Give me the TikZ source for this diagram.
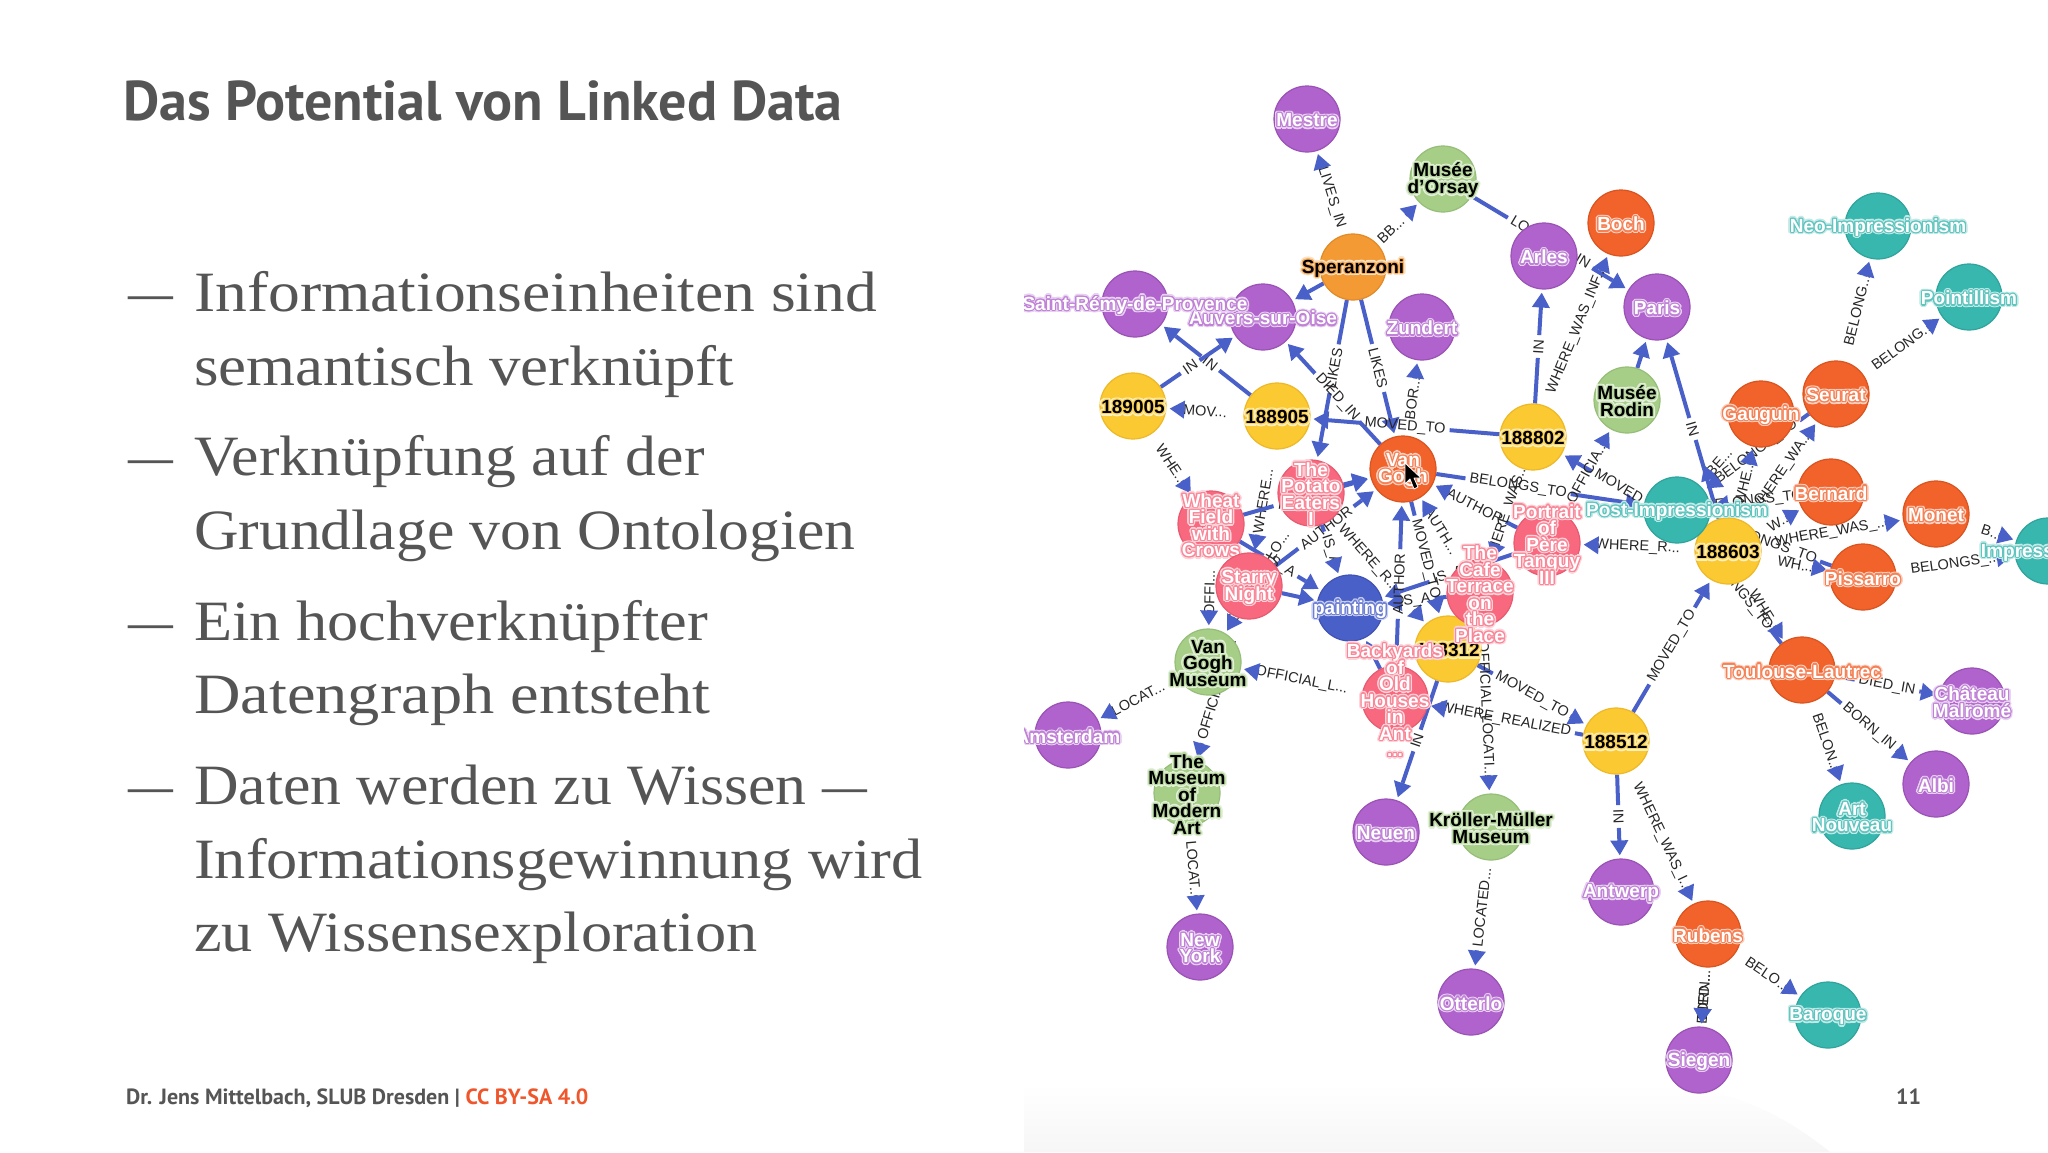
\documentclass[tikz,border=0pt]{standalone}
\usepackage{fontspec}
\usepackage[copies]{contour}
\usetikzlibrary{arrows.meta,calc}
\setmainfont{Liberation Sans}
\newfontfamily\ptsans{PT Sans}
\newfontfamily\bodyf[FakeStretch=1.093]{Liberation Serif}
\definecolor{cP}{HTML}{B063CC}\definecolor{cPd}{HTML}{9A52B5}
\definecolor{cR}{HTML}{F2622B}\definecolor{cRd}{HTML}{D9541F}
\definecolor{cT}{HTML}{38B7AF}\definecolor{cTd}{HTML}{2FA39C}
\definecolor{cG}{HTML}{A6CE87}\definecolor{cGd}{HTML}{96BE78}
\definecolor{cY}{HTML}{FBC931}\definecolor{cYd}{HTML}{EDB928}
\definecolor{cK}{HTML}{F8697F}\definecolor{cKd}{HTML}{E85A70}
\definecolor{cB}{HTML}{4A60C9}\definecolor{cBd}{HTML}{4053B5}
\definecolor{cO}{HTML}{F49A35}\definecolor{cOd}{HTML}{E08A28}
\definecolor{slide}{HTML}{555555}\definecolor{ccred}{HTML}{F0562B}
\contournumber{16}
\colorlet{haloa}{white}\colorlet{halob}{white}
\newcommand\hl[1]{\leavevmode\rlap{\contourlength{2.6pt}\contour{haloa}{#1}}\contourlength{1.1pt}\contour{halob}{#1}}
\newcommand\sethalo[1]{\colorlet{haloa}{#1!30}\colorlet{halob}{#1!80}}
\newcommand\tightlines{\setlength{\lineskiplimit}{-20pt}}
\newcommand\dsh{\scalebox{0.72}[1]{—}}
\newcommand\sx[2]{\scalebox{#1}[1]{#2}}
\pgfdeclarelayer{paper}\pgfdeclarelayer{edges}\pgfsetlayers{paper,edges,main}
\tikzset{
 x=1pt,y=-1pt,
 circ/.style={circle,minimum size=66pt,inner sep=0pt,line width=1.2pt},
 txt/.style={inner sep=0pt,align=center,yshift=-2.5pt,font=\bfseries\fontsize{19}{16.5}\selectfont\tightlines},
 purp/.style={fill=cP,draw=cPd},purpt/.style={text=white,execute at begin node=\sethalo{cP}},
 rred/.style={fill=cR,draw=cRd},rredt/.style={text=white,execute at begin node=\sethalo{cR}},
 teal/.style={fill=cT,draw=cTd},tealt/.style={text=white,execute at begin node=\sethalo{cT}},
 gren/.style={fill=cG,draw=cGd},grent/.style={text=black,execute at begin node=\sethalo{cG}},
 yelo/.style={fill=cY,draw=cYd},yelot/.style={text=black,execute at begin node=\sethalo{cY}},
 pink/.style={fill=cK,draw=cKd},pinkt/.style={text=white,execute at begin node=\sethalo{cK}},
 blue/.style={fill=cB,draw=cBd},bluet/.style={text=white,execute at begin node=\sethalo{cB}},
 oran/.style={fill=cO,draw=cOd},orant/.style={text=black,execute at begin node=\sethalo{cO}},
 edgeline/.style={draw=cB,line width=4pt},
 edgetip/.style={draw=cB,line width=4pt,shorten >=3pt,-{Triangle[length=15pt,width=17pt]}},
 lab/.style={sloped,inner xsep=4pt,inner ysep=0pt,text=black!85,font=\fontsize{14.5}{14.5}\selectfont},
 slidetxt/.style={anchor=base west,inner sep=0pt,text=slide},
 bodyline/.style={slidetxt,font=\bodyf\fontsize{57}{57}\selectfont},
}
\newcommand\gn[5]{\node[circ,#4] (#1) at (#2,#3) {};\node[txt,#4t] (#1t) at (#1.center) {#5};}
\newcounter{ed}
\makeatletter
\newcommand\rel[4][0.5]{\stepcounter{ed}%
 \begin{pgfonlayer}{edges}
 \coordinate (tp\theed) at ($(#3.center)!52pt!(#2.center)$);
 \path (#2.center) -- node[lab,pos=#1] (L\theed) {#4} (#3.center);
 \in@{...}{#4}%
 \ifin@\else
 \draw[edgeline] (#2) -- (L\theed);
 \draw[edgeline] (L\theed) -- (tp\theed);
 \fi
 \draw[edgetip] (tp\theed) -- (#3);
 \end{pgfonlayer}}
\newcommand\relfull[4][0.5]{\stepcounter{ed}%
 \begin{pgfonlayer}{edges}
 \coordinate (tp\theed) at ($(#3.center)!52pt!(#2.center)$);
 \path (#2.center) -- node[lab,pos=#1] (L\theed) {#4} (#3.center);
 \draw[edgetip] (tp\theed) -- (#3);
 \end{pgfonlayer}}
\makeatother
\newcommand\norel[2]{\begin{pgfonlayer}{edges}\draw[edgetip] (#1) -- (#2);\end{pgfonlayer}}
\begin{document}
\begin{tikzpicture}
\useasboundingbox (0,0) rectangle (2048,1152);
\begin{pgfonlayer}{paper}
\fill[white] (0,0) rectangle (2048,1152);
\shade[top color=white,bottom color=black!3.5] (1024,1084) -- (1660,1084) .. controls (1740,1090) and (1790,1120) .. (1830,1152) -- (1024,1152) -- cycle;
\end{pgfonlayer}
% nodes
\gn{Mestre}{1307}{119}{purp}{\hl{Mestre}}
\gn{Orsay}{1443}{179}{gren}{\hl{Musée}\\\hl{d'Orsay}}
\gn{Sp}{1353}{267}{oran}{\hl{Speranzoni}}
\gn{Auvers}{1263}{317}{purp}{\hl{Auvers-sur-Oise}}
\gn{Saint}{1135}{304}{purp}{\hl{Saint-Rémy-de-Provence}}
\gn{Zundert}{1422}{327}{purp}{\hl{Zundert}}
\gn{c005}{1133}{406}{yelo}{\hl{189005}}
\gn{c905}{1277}{416}{yelo}{\hl{188905}}
\gn{c802}{1533}{437}{yelo}{\hl{188802}}
\gn{Arles}{1544}{256}{purp}{\hl{Arles}}
\gn{Boch}{1621}{223}{rred}{\hl{Boch}}
\gn{Paris}{1657}{307}{purp}{\hl{Paris}}
\gn{Rodin}{1627}{400}{gren}{\hl{Musée}\\\hl{Rodin}}
\gn{Neo}{1878}{226}{teal}{\hl{Neo-Impressionism}}
\gn{Pointillism}{1969}{297}{teal}{\hl{Pointillism}}
\gn{Gauguin}{1761}{414}{rred}{\hl{Gauguin}}
\gn{Seurat}{1836}{394}{rred}{\hl{Seurat}}
\gn{Bernard}{1831}{492}{rred}{\hl{Bernard}}
\gn{Monet}{1936}{514}{rred}{\hl{Monet}}
\gn{Impress}{2048}{551}{teal}{\hl{Impressionism}}
\gn{Pissarro}{1863}{577}{rred}{\hl{Pissarro}}
\gn{c603}{1728}{551}{yelo}{\hl{188603}}
\gn{PostI}{1677}{510}{teal}{\hl{Post-Impressionism}}
\gn{VG}{1403}{469}{rred}{\hl{Van}\\\hl{Gogh}}
\gn{Potato}{1311}{493}{pink}{\hl{The}\\\hl{Potato}\\\hl{Eaters}\\\hl{I}}
\gn{Wheat}{1211}{524}{pink}{\hl{Wheat}\\\hl{Field}\\\hl{with}\\\hl{Crows}}
\gn{Starry}{1249}{586}{pink}{\hl{Starry}\\\hl{Night}}
\gn{painting}{1350}{608}{blue}{\hl{painting}}
\gn{c312}{1448}{649}{yelo}{\hl{188312}}
\gn{Cafe}{1480}{593}{pink}{\hl{The}\\\hl{Cafe}\\\hl{Terrace}\\\hl{on}\\\hl{the}\\\hl{Place}}
\gn{Portrait}{1547}{543}{pink}{\hl{Portrait}\\\hl{of}\\\hl{Père}\\\hl{Tanguy}\\\hl{III}}
\gn{Backyards}{1395}{699}{pink}{\hl{Backyards}\\\hl{of}\\\hl{Old}\\\hl{Houses}\\\hl{in}\\\hl{Ant}\\\hl{...}}
\gn{VGM}{1208}{662}{gren}{\hl{Van}\\\hl{Gogh}\\\hl{Museum}}
\gn{MoMA}{1187}{793}{gren}{\hl{The}\\\hl{Museum}\\\hl{of}\\\hl{Modern}\\\hl{Art}}
\gn{Amsterdam}{1068}{735}{purp}{\hl{Amsterdam}}
\gn{NewYork}{1200}{947}{purp}{\hl{New}\\\hl{York}}
\gn{Neuen}{1386}{832}{purp}{\hl{Neuen}}
\gn{Kroller}{1491}{827}{gren}{\hl{Kröller-Müller}\\\hl{Museum}}
\gn{Otterlo}{1471}{1002}{purp}{\hl{Otterlo}}
\gn{cf12}{1616}{741}{yelo}{\hl{188512}}
\gn{Antwerp}{1621}{892}{purp}{\hl{Antwerp}}
\gn{Rubens}{1708}{934}{rred}{\hl{Rubens}}
\gn{Siegen}{1699}{1060}{purp}{\hl{Siegen}}
\gn{Baroque}{1828}{1015}{teal}{\hl{Baroque}}
\gn{Toulouse}{1802}{670}{rred}{\hl{Toulouse-Lautrec}}
\gn{Chateau}{1972}{701}{purp}{\hl{Château}\\\hl{Malromé}}
\gn{Albi}{1936}{784}{purp}{\hl{Albi}}
\gn{ArtN}{1852}{816}{teal}{\hl{Art}\\\hl{Nouveau}}
% connectors
\relfull[0.47]{Sp}{Mestre}{LIVES\_IN}
\rel[0.42]{Sp}{Orsay}{BB...}
\rel{Orsay}{Paris}{LOCATED\_IN}
\norel{Sp}{Auvers}
\rel[0.45]{Sp}{Potato}{LIKES}
\rel{Sp}{VG}{LIKES}
\rel[0.47]{VG}{Auvers}{DIED\_IN}
\rel{VG}{Zundert}{BOR...}
\rel[0.47]{c905}{Saint}{IN}
\rel[0.44]{c005}{Auvers}{IN}
\rel{c905}{c005}{MOV...}
\rel{c802}{c905}{MOVED\_TO}
\rel{c905}{Starry}{WHERE...}
\rel{c005}{Wheat}{WHE...}
\rel{Wheat}{VG}{AUTHOR}
\rel{Starry}{VG}{AUTHOR}
\norel{Potato}{VG}
\rel{Wheat}{painting}{IS\_A}
\norel{Starry}{painting}
\rel{Potato}{painting}{IS\_A}
\rel[0.42]{Potato}{c312}{WHERE\_R...}
\rel{Cafe}{painting}{IS\_A}
\rel{Portrait}{painting}{IS\_A}
\norel{Backyards}{painting}
\rel{Backyards}{VG}{AUTHOR}
\rel{VG}{c312}{MOVED\_TO}
\rel{Cafe}{VG}{AUTH...}
\rel{Portrait}{VG}{AUTHOR}
\rel[0.42]{VG}{PostI}{BELONGS\_TO}
\rel{c312}{Neuen}{IN}
\rel{c312}{cf12}{MOVED\_TO}
\rel{cf12}{Backyards}{WHERE\_REALIZED}
\rel{Backyards}{VGM}{OFFICIAL\_L...}
\rel{Wheat}{VGM}{OFFI...}
\rel{Potato}{VGM}{OFFICIAL\_LO...}
\rel{Starry}{MoMA}{OFFICIAL\_LO...}
\rel{VGM}{Amsterdam}{LOCAT...}
\rel{MoMA}{NewYork}{LOCAT...}
\rel[0.46]{Kroller}{Otterlo}{LOCATED...}
\rel{Cafe}{Kroller}{OFFICIAL\_LOCATI...}
\rel{cf12}{c603}{MOVED\_TO}
\rel{c603}{c802}{MOVED\_TO}
\rel{c802}{Arles}{IN}
\rel{c802}{Boch}{WHERE\_WAS\_INF...}
\rel{c802}{Cafe}{WHERE\_WAS...}
\norel{Rodin}{Paris}
\rel{c603}{Paris}{IN}
\rel{Gauguin}{PostI}{BE...}
\rel{Seurat}{PostI}{BELONGS\_TO}
\rel{Bernard}{PostI}{BELONGS\_TO}
\rel{Pissarro}{PostI}{BELONGS\_TO}
\rel{Toulouse}{PostI}{BELONGS\_TO}
\rel{c603}{Seurat}{WHERE\_WA...}
\rel{c603}{Gauguin}{WHE...}
\rel{c603}{Bernard}{W...}
\rel{c603}{Monet}{WHERE\_WAS\_...}
\rel{c603}{Pissarro}{WH...}
\rel{c603}{Toulouse}{WHE...}
\rel{c603}{Portrait}{WHERE\_R...}
\rel{Portrait}{Rodin}{OFFICIA...}
\rel{Monet}{Impress}{B...}
\rel{Pissarro}{Impress}{BELONGS\_...}
\rel{Toulouse}{ArtN}{BELON...}
\rel{Toulouse}{Albi}{BORN\_IN}
\rel{Toulouse}{Chateau}{DIED\_IN}
\rel{Rubens}{Baroque}{BELO...}
\rel{Rubens}{Siegen}{BORN...}
\rel{Rubens}{Siegen}{DIED...}
\rel{cf12}{Antwerp}{IN}
\rel{cf12}{Rubens}{WHERE\_WAS\_I...}
\rel{Seurat}{Neo}{BELONG...}
\rel{Seurat}{Pointillism}{BELONG...}
% cursor
\filldraw[fill=black,draw=white,line width=0.8pt,line join=round] (1405,463) -- (1405,484) -- (1410,479) -- (1414,489) -- (1418,487) -- (1414,478) -- (1421,478) -- cycle;
% left slide area
\fill[white] (0,0) rectangle (1024,1152);
\node[slidetxt,font=\ptsans\bfseries\fontsize{56}{56}\selectfont] (title) at (123,120) {Das Potential von Linked Data};
\node[bodyline] (d1) at (128,311) {\dsh};\node[bodyline] (t1) at (194,311) {\sx{1.02}{Informationseinheiten sind}};
\node[bodyline] (t2) at (194,385) {\sx{1.01}{semantisch verknüpft}};
\node[bodyline] (d2) at (128,475) {\dsh};\node[bodyline] (t3) at (194,475) {\sx{0.99}{Verknüpfung auf der}};
\node[bodyline] (t4) at (194,549) {\sx{0.99}{Grundlage von Ontologien}};
\node[bodyline] (d3) at (128,640) {\dsh};\node[bodyline] (t5) at (194,640) {Ein hochverknüpfter};
\node[bodyline] (t6) at (194,713) {\sx{1.033}{Datengraph entsteht}};
\node[bodyline] (d4) at (128,804) {\dsh};\node[bodyline] (t7) at (194,804) {\sx{0.99}{Daten werden zu Wissen} \dsh};
\node[bodyline] (t8) at (194,878) {Informationsgewinnung wird};
\node[bodyline] (t9) at (194,951) {zu Wissensexploration};
\node[slidetxt,font=\ptsans\bfseries\fontsize{22}{22}\selectfont] (foot) at (126,1104) {Dr. Jens Mittelbach, SLUB Dresden | \textcolor{ccred}{CC BY-SA 4.0}};
\node[slidetxt,font=\ptsans\bfseries\fontsize{22}{22}\selectfont] (pageno) at (1896,1104) {11};
\end{tikzpicture}
\end{document}
